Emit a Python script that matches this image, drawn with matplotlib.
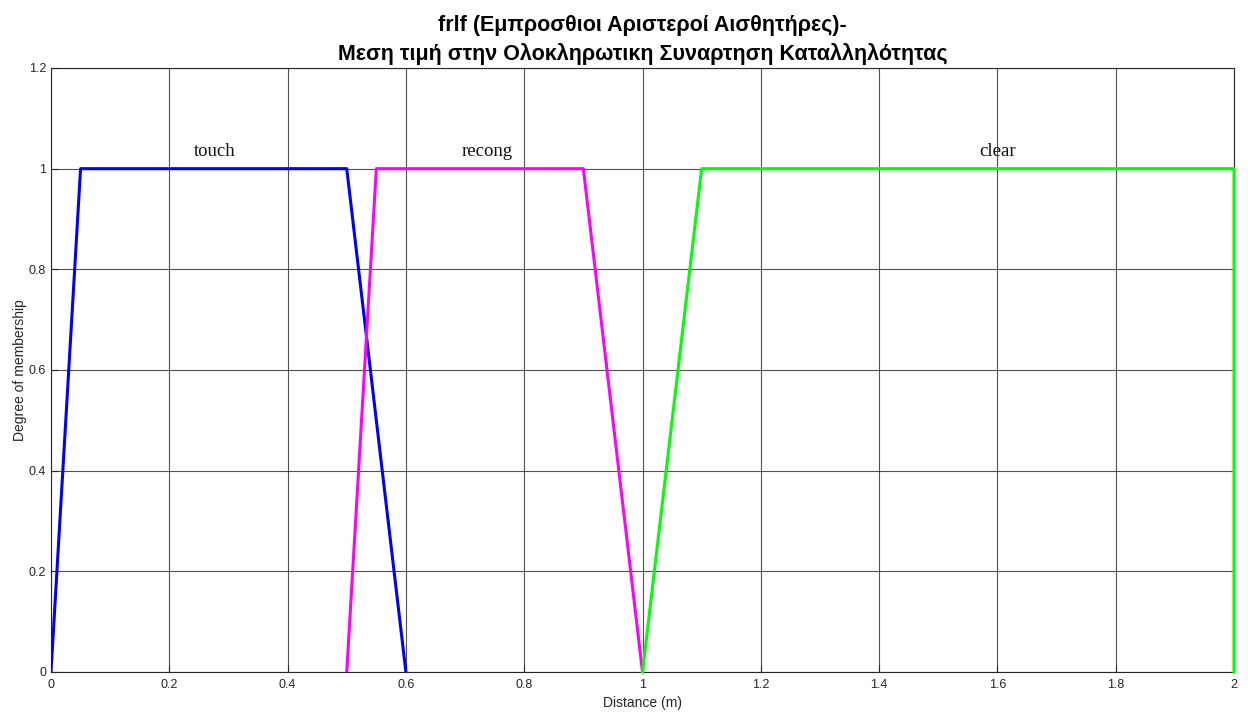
import matplotlib
matplotlib.use("Agg")
import matplotlib.pyplot as plt

# Membership function breakpoints (distance in m, degree)
touch_x = [0.0, 0.05, 0.5, 0.6]
touch_y = [0.0, 1.0, 1.0, 0.0]
recong_x = [0.5, 0.55, 0.9, 1.0]
recong_y = [0.0, 1.0, 1.0, 0.0]
clear_x = [1.0, 1.1, 2.0, 2.0]
clear_y = [0.0, 1.0, 1.0, 0.0]

labels = ["touch", "recong", "clear"]
label_x = [0.276, 0.737, 1.6]
label_y = 1.025

xticks = [0, 0.2, 0.4, 0.6, 0.8, 1, 1.2, 1.4, 1.6, 1.8, 2]
yticks = [0, 0.2, 0.4, 0.6, 0.8, 1, 1.2]

plt.rcParams['font.family'] = ['Liberation Sans', 'DejaVu Sans']

fig = plt.figure(figsize=(12.48, 7.13), dpi=100)
ax = fig.add_axes([51 / 1248, 1 - 672 / 713, (1234 - 51) / 1248, (672 - 68) / 713])

ax.plot(touch_x, touch_y, color='#0000ff', lw=2.2, zorder=3)
ax.plot(recong_x, recong_y, color='#ff00ff', lw=2.2, zorder=3)
ax.plot(clear_x, clear_y, color='#00ff00', lw=2.2, zorder=3, clip_on=False)

for t, x in zip(labels, label_x):
    ax.text(x, label_y, t, ha='center', va='baseline', fontsize=13.5,
            family=['Liberation Serif', 'DejaVu Serif'], color='#111111')

ax.set_xlim(0, 2)
ax.set_ylim(0, 1.2)
ax.set_xticks(xticks)
ax.set_xticklabels([f"{v:g}" for v in xticks])
ax.set_yticks(yticks)
ax.set_yticklabels([f"{v:g}" for v in yticks])
ax.grid(True, color='#262626', lw=0.8, alpha=0.8)
ax.set_axisbelow(True)
ax.tick_params(direction='in', length=5, labelsize=9, colors='#262626', width=0.8)
ax.tick_params(axis='x', pad=5)
for s in ax.spines.values():
    s.set_color('#262626')
    s.set_linewidth(0.8)

ax.set_xlabel("Distance (m)", fontsize=10, color='#262626', labelpad=4)
ax.set_ylabel("Degree of membership", fontsize=10, color='#262626', labelpad=1)
ax.set_title("frlf (Εμπροσθιοι Αριστεροί Αισθητήρες)-\nΜεση τιμή στην Ολοκληρωτικη Συναρτηση Καταλληλότητας",
             fontsize=15.5, fontweight='bold', pad=6, linespacing=1.4)

fig.savefig("out.png", dpi=100)
